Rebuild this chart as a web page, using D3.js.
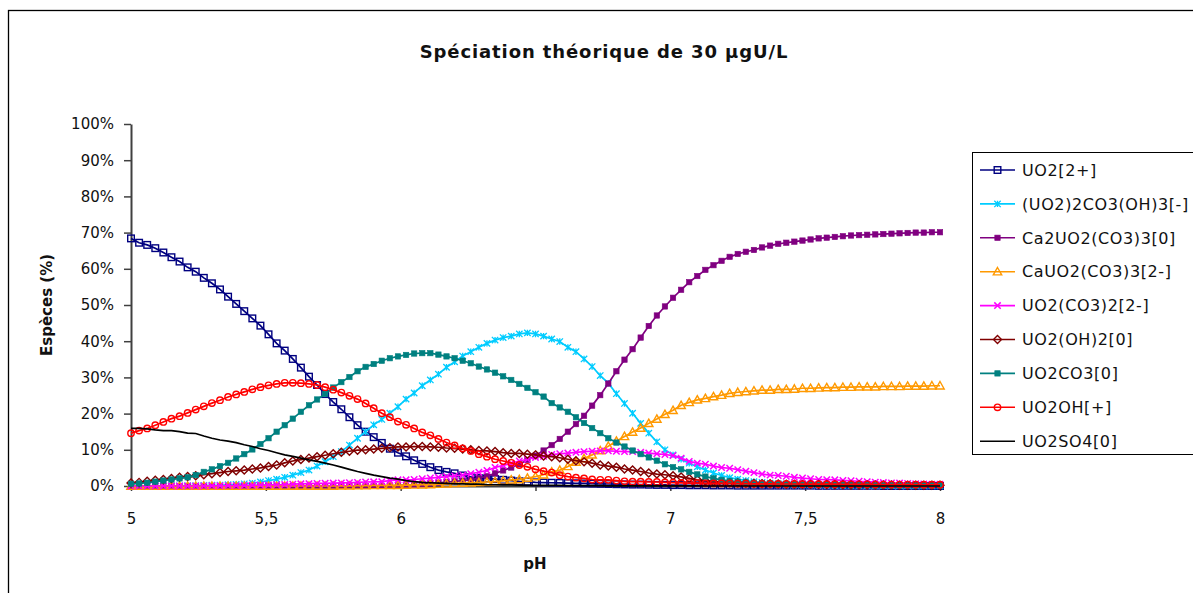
<!DOCTYPE html>
<html><head><meta charset="utf-8">
<script src="https://cdn.jsdelivr.net/npm/d3@7/dist/d3.min.js"></script>
<style>body{margin:0;background:#fff}svg{display:block}text{font-family:"DejaVu Sans",Verdana,sans-serif;fill:#111}</style>
</head><body><svg id="c" width="1193" height="593"></svg>
<script>
const pH = [5.00,5.03,5.06,5.09,5.12,5.15,5.18,5.21,5.24,5.27,
5.30,5.33,5.36,5.39,5.42,5.45,5.48,5.51,5.54,5.57,
5.60,5.63,5.66,5.69,5.72,5.75,5.78,5.81,5.84,5.87,
5.90,5.93,5.96,5.99,6.02,6.05,6.08,6.11,6.14,6.17,
6.20,6.23,6.26,6.29,6.32,6.35,6.38,6.41,6.44,6.47,
6.50,6.53,6.56,6.59,6.62,6.65,6.68,6.71,6.74,6.77,
6.80,6.83,6.86,6.89,6.92,6.95,6.98,7.01,7.04,7.07,
7.10,7.13,7.16,7.19,7.22,7.25,7.28,7.31,7.34,7.37,
7.40,7.43,7.46,7.49,7.52,7.55,7.58,7.61,7.64,7.67,
7.70,7.73,7.76,7.79,7.82,7.85,7.88,7.91,7.94,7.97,
8.00];

const seriesNames = ["UO2[2+]","(UO2)2CO3(OH)3[-]","Ca2UO2(CO3)3[0]","CaUO2(CO3)3[2-]","UO2(CO3)2[2-]","UO2(OH)2[0]","UO2CO3[0]","UO2OH[+]","UO2SO4[0]"];

const UO2 = [68.4,67.2,66.6,65.7,64.5,63.2,62.0,60.4,59.2,57.5,56.0,54.3,52.3,50.3,48.3,46.3,44.3,41.9,39.4,37.4,35.1,32.7,30.2,27.9,25.4,
23.2,21.2,19.0,16.8,15.0,13.5,11.9,10.3,9.2,8.2,7.1,6.1,5.2,4.4,3.9,3.5,2.9,2.5,2.2,2.1,1.9,1.7,1.5,1.3,1.2,
1.0,0.95,0.9,0.85,0.8,0.75,0.7,0.65,0.6,0.55,0.5,0.45,0.4,0.4,0.35,0.3,0.3,0.25,0.25,0.2,0.2,0.2,0.15,0.15,0.15,
0.1,0.1,0.1,0.1,0.1,0.1,0.1,0.1,0.1,0.1,0.05,0.05,0.05,0.05,0.05,0.05,0.05,0.05,0,0,0,0,0,0,0,0];

const UO22CO3OH3 = [0,0,0,0,0,0,0.05,0.1,0.1,0.15,0.2,0.25,0.35,0.45,0.6,0.8,1.1,1.5,1.9,2.4,3.0,3.7,4.4,5.5,6.7,
8.1,9.5,11.3,13.2,15.0,16.9,18.4,20.1,21.9,24.0,25.7,27.7,29.3,30.9,32.8,34.3,35.9,37.1,38.3,39.4,40.3,41.0,41.4,42.0,42.3,
42.0,41.4,40.6,39.9,38.3,37.1,35.1,33.0,30.5,28.4,25.5,22.8,20.1,17.3,14.6,12.2,10.0,8.6,7.4,6.3,5.3,4.4,3.6,2.9,2.3,
1.9,1.5,1.2,1.0,0.8,0.65,0.55,0.45,0.4,0.35,0.3,0.25,0.2,0.2,0.15,0.15,0.1,0.1,0.1,0.1,0.05,0.05,0.05,0.05,0.05,0.05];

const Ca2UO2CO33 = [0,0,0,0,0,0,0,0,0,0,0,0,0,0,0,0,0,0,0,0,0,0,0,0,0,0,0,0,0,0,0,
0.05,0.1,0.15,0.25,0.35,0.5,0.7,0.9,1.1,1.3,1.5,
1.7,2.2,2.7,3.5,4.3,5.1,6.0,7.2,8.4,9.8,11.3,13.0,15.0,17.1,19.4,22.2,25.1,28.3,31.7,34.9,37.8,41.0,44.2,47.1,49.6,
52.0,54.2,56.3,58.0,59.7,61.0,62.2,63.3,64.1,64.7,65.2,65.9,66.4,66.9,67.2,67.5,67.8,68.1,68.4,68.6,68.8,69.0,69.2,69.3,69.4,69.5,69.6,69.7,69.8,69.9,70.0,70.0,70.1,70.1];

const CaUO2CO33 = [0,0,0,0,0,0,0,0,0,0,0,0,0,0,0,0,0,0,0,0,0,0,0,0,0,0,
0.05,0.05,0.1,0.1,0.15,0.15,0.2,0.2,0.25,0.3,0.35,0.4,0.5,0.6,0.7,
0.8,0.9,1.0,1.1,1.2,1.4,1.7,1.8,2.2,2.6,3.1,3.9,4.4,5.4,6.6,7.6,8.6,9.8,11.0,12.4,13.7,14.9,16.0,17.3,18.5,19.8,20.9,22.3,23.1,23.8,
24.2,24.7,25.1,25.6,25.9,26.1,26.3,26.5,26.5,26.7,26.7,26.8,27.0,27.0,27.1,27.2,27.2,27.3,27.3,27.4,27.4,27.4,27.5,27.5,27.5,27.6,27.6,27.6,27.7,27.7];

const UO2CO32 = [0,0,0,0,0,0,0,0,0,0,0.05,0.05,0.1,0.1,0.15,0.2,0.25,0.3,0.35,0.4,0.5,0.6,0.65,0.7,0.75,
0.8,0.85,0.9,1.0,1.1,1.15,1.2,1.5,1.7,1.7,1.8,2.0,2.2,2.4,2.6,2.8,3.0,3.4,3.8,4.3,5.1,5.7,6.3,6.9,7.4,7.9,
8.2,8.7,8.9,9.1,9.3,9.5,9.6,9.7,9.7,9.6,9.5,9.5,9.3,9.1,8.9,8.7,8.4,7.7,6.8,6.3,6.0,5.5,5.1,4.9,4.5,
4.1,3.7,3.3,3.0,2.9,2.7,2.4,2.2,2.0,1.8,1.75,1.7,1.55,1.45,1.3,1.2,1.05,0.95,0.85,0.8,0.7,0.6,0.55,0.5,0.5];

const UO2OH2 = [0.8,1.0,1.3,1.6,1.8,2.1,2.4,2.6,2.8,3.1,3.4,3.7,4.0,4.2,4.4,4.7,5.0,5.4,5.8,6.4,6.9,7.3,7.7,8.1,8.5,8.9,9.3,9.6,9.9,10.0,10.2,10.4,10.6,10.8,10.8,10.9,10.9,
10.8,10.7,10.5,10.4,10.2,10.0,9.8,9.7,9.5,9.2,9.0,9.0,8.8,8.6,8.3,8.1,7.8,7.4,7.0,6.7,6.3,5.8,5.5,5.2,4.7,4.4,4.0,3.6,3.3,
3.1,2.8,2.5,2.1,1.7,1.4,1.2,1.0,0.9,0.8,0.75,0.7,0.65,0.6,0.55,0.5,0.5,0.45,0.45,0.4,0.4,0.35,0.35,0.3,0.3,0.3,0.25,0.25,0.25,0.2,0.2,0.2,0.2,0.2,0.2];

const UO2CO3 = [0.6,0.7,0.9,1.2,1.5,1.8,2.1,2.4,3.0,3.9,4.6,5.5,6.4,7.6,8.8,10.1,11.6,13.2,15.0,16.8,18.6,20.5,22.3,23.9,25.4,27.2,28.7,30.1,31.7,32.9,33.7,34.6,35.3,35.8,36.2,36.6,
36.7,36.7,36.3,35.8,35.3,34.6,33.9,33.0,32.2,31.3,30.3,29.3,28.2,27.1,25.9,24.7,22.9,21.7,20.5,19.0,17.4,16.0,14.6,13.2,12.0,10.9,9.8,8.8,7.9,7.0,6.0,
5.2,4.6,3.9,3.2,2.6,2.1,1.7,1.4,1.2,1.0,0.85,0.75,0.65,0.55,0.5,0.45,0.4,0.35,0.3,0.3,0.25,0.25,0.2,0.2,0.2,0.15,0.15,0.15,0.1,0.1,0.1,0.1,0.1,0.1];

const UO2OH = [14.6,15.3,15.9,16.8,17.7,18.6,19.3,20.2,21.1,22.0,22.9,23.7,24.6,25.3,26.0,26.7,27.3,27.8,28.2,28.5,28.5,28.4,28.2,27.9,27.3,26.6,25.8,24.9,24.0,22.8,21.5,20.1,19.0,17.8,16.9,15.9,14.8,
14.0,13.0,12.0,11.2,10.4,9.7,8.8,8.1,7.4,6.9,6.4,5.8,5.3,4.6,4.1,3.7,3.0,2.6,2.3,2.1,1.8,1.7,1.7,1.5,1.3,1.2,1.2,1.1,1.1,1.0,0.9,0.85,0.8,0.8,
0.75,0.7,0.7,0.7,0.65,0.65,0.6,0.6,0.6,0.55,0.55,0.55,0.5,0.5,0.5,0.5,0.5,0.45,0.45,0.45,0.45,0.4,0.4,0.4,0.4,0.4,0.4,0.35,0.35,0.35];

const UO2SO4 = [15.9,15.9,15.8,15.5,15.3,15.3,15.0,14.6,14.5,13.8,13.2,12.7,12.4,12.0,11.4,10.9,10.3,9.8,9.2,8.6,8.2,7.7,7.2,6.8,6.3,5.8,5.2,4.6,4.0,3.5,3.0,2.6,2.2,1.9,1.5,1.2,1.0,0.9,0.8,0.7,0.6,0.6,0.5,0.5,0.4,0.35,0.3,0.3,0.25,0.2,0.2,
0.15,0.15,0.15,0.1,0.1,0.1,0.1,0.1,0.05,0.05,0.05,0.05,0.05,0.05,0.05,0.05,0.05,0.05,0.05,0.05,
0,0,0,0,0,0,0,0,0,0,0,0,0,0,0,0,0,0,0,0,0,0,0,0,0,0,0,0,0,0];

const yTicks = [0,10,20,30,40,50,60,70,80,90,100];
const xTicks = [5,5.5,6,6.5,7,7.5,8];
const xTickLabels = ["5","5,5","6","6,5","7","7,5","8"];

const colors = ["#000080","#00CCFF","#800080","#FF9900","#FF00FF","#800000","#008080","#FF0000","#000000"];
const markers = ["square","star","fsquare","triangle","x","diamond","fsquare","circle","none"];
const data = [UO2,UO22CO3OH3,Ca2UO2CO33,CaUO2CO33,UO2CO32,UO2OH2,UO2CO3,UO2OH,UO2SO4];

const svg = d3.select("#c");
svg.append("rect").attr("x",8.5).attr("y",10.5).attr("width",1300).attr("height",700)
  .attr("fill","#fff").attr("stroke","#000").attr("stroke-width",1.3);

const x = d3.scaleLinear().domain([5,8]).range([131,940]);
const y = d3.scaleLinear().domain([0,100]).range([486,124]);

svg.append("text").attr("x",604).attr("y",58).attr("text-anchor","middle")
  .style("font-size","18px").style("font-weight","bold").style("letter-spacing","0.9px")
  .text("Spéciation théorique de 30 µgU/L");

const yAxis = svg.append("g").attr("transform","translate(131,0)")
  .call(d3.axisLeft(y).tickValues(yTicks).tickFormat(d=>d+"%").tickSize(7).tickPadding(10).tickSizeOuter(0));
const xAxis = svg.append("g").attr("transform","translate(0,486)")
  .call(d3.axisBottom(x).tickValues(xTicks).tickFormat((d,i)=>xTickLabels[i]).tickSize(5).tickPadding(22).tickSizeOuter(0));
[yAxis,xAxis].forEach(g=>{
  g.select(".domain").attr("stroke","#404040").attr("stroke-width",2);
  g.selectAll(".tick line").attr("stroke","#404040").attr("stroke-width",1.5);
  g.selectAll(".tick text").style("font-size","15px").style("font-family","'DejaVu Sans',sans-serif").attr("fill","#111");
});

svg.append("text").attr("transform","translate(52,305) rotate(-90)").attr("text-anchor","middle")
  .style("font-size","15px").style("font-weight","bold").text("Espèces (%)");
svg.append("text").attr("x",535).attr("y",569).attr("text-anchor","middle")
  .style("font-size","15px").style("font-weight","bold").text("pH");

function drawMarker(g, type, cx, cy, col){
  const s = 3.3;
  if(type==="square") g.append("rect").attr("x",cx-s).attr("y",cy-s).attr("width",2*s).attr("height",2*s).attr("fill","none").attr("stroke",col).attr("stroke-width",1.4);
  else if(type==="fsquare") g.append("rect").attr("x",cx-2.7).attr("y",cy-2.7).attr("width",5.4).attr("height",5.4).attr("fill",col).attr("stroke",col).attr("stroke-width",0.6);
  else if(type==="circle") g.append("circle").attr("cx",cx).attr("cy",cy).attr("r",3.2).attr("fill","none").attr("stroke",col).attr("stroke-width",1.4);
  else if(type==="triangle") g.append("path").attr("d",`M${cx},${cy-4.2}L${cx+4.2},${cy+3.2}L${cx-4.2},${cy+3.2}Z`).attr("fill","none").attr("stroke",col).attr("stroke-width",1.4);
  else if(type==="diamond") g.append("path").attr("d",`M${cx},${cy-4}L${cx+4},${cy}L${cx},${cy+4}L${cx-4},${cy}Z`).attr("fill","none").attr("stroke",col).attr("stroke-width",1.4);
  else if(type==="x") g.append("path").attr("d",`M${cx-3.2},${cy-3.2}L${cx+3.2},${cy+3.2}M${cx-3.2},${cy+3.2}L${cx+3.2},${cy-3.2}`).attr("stroke",col).attr("stroke-width",1.5);
  else if(type==="star") g.append("path").attr("d",`M${cx-3.2},${cy-3.2}L${cx+3.2},${cy+3.2}M${cx-3.2},${cy+3.2}L${cx+3.2},${cy-3.2}M${cx},${cy-3.2}L${cx},${cy+3.2}`).attr("stroke",col).attr("stroke-width",1.3);
}

const line = d3.line().x((d,i)=>x(pH[i])).y(d=>y(d));
const plot = svg.append("g");
data.forEach((vals,k)=>{
  const g = plot.append("g");
  g.append("path").datum(vals).attr("d",line).attr("fill","none").attr("stroke",colors[k]).attr("stroke-width",1.7);
  if(markers[k]!=="none") vals.forEach((v,i)=>drawMarker(g,markers[k],x(pH[i]),y(v),colors[k]));
});

// legend
const lg = svg.append("g");
lg.append("rect").attr("x",972.5).attr("y",152.5).attr("width",300).attr("height",302)
  .attr("fill","#fff").attr("stroke","#000").attr("stroke-width",1);
seriesNames.forEach((n,k)=>{
  const cy = 170 + k*33.9;
  lg.append("line").attr("x1",980).attr("x2",1015).attr("y1",cy).attr("y2",cy).attr("stroke",colors[k]).attr("stroke-width",1.6);
  if(markers[k]!=="none") drawMarker(lg,markers[k],997.5,cy,colors[k]);
  lg.append("text").attr("x",1022).attr("y",cy).attr("dy","0.36em").style("font-size","16px").style("letter-spacing","0.6px").text(n);
});
</script></body></html>
